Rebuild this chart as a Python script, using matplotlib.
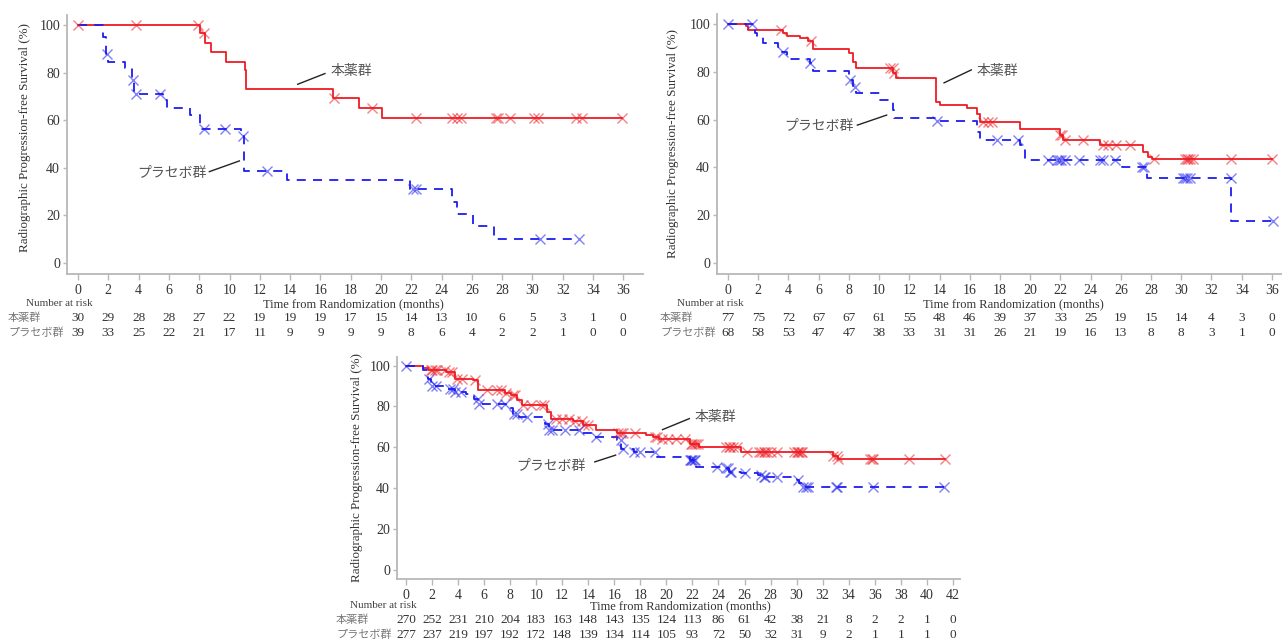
import numpy as np
import matplotlib
matplotlib.use('Agg')
import matplotlib.pyplot as plt
from matplotlib import transforms

# --- panel A ---
a_drug_t = [0, 8.06, 8.35, 8.8, 9.8, 11.0, 11.1, 16.85, 18.56, 20.06]
a_drug_s = [100, 96.6, 92.4, 88.6, 84.6, 81.0, 73.0, 69.3, 65.1, 60.8]
a_drug_cens = [0.0, 3.8, 7.9, 8.3, 16.9, 19.4, 22.3, 24.7, 25.0, 25.3, 27.6, 27.7,
               28.5, 30.1, 30.35, 32.9, 33.25, 35.9]
a_pbo_t = [0, 1.63, 1.85, 2.0, 3.1, 3.54, 3.7, 5.64, 5.86, 7.4, 8.05, 10.76, 10.98,
           13.8, 21.93, 24.68, 25.0, 26.07, 27.43]
a_pbo_s = [100, 94.8, 87.8, 84.6, 81.8, 76.9, 70.9, 68.5, 65.0, 62.2, 56.3, 53.5, 38.8,
           34.9, 31.0, 25.8, 20.7, 15.5, 10.3]
a_pbo_cens = [1.9, 3.6, 3.8, 5.4, 8.3, 9.7, 10.9, 12.5, 22.1, 22.3, 30.5, 33.05]
a_ticks = list(range(0, 37, 2))
a_risk_drug = [30, 29, 28, 28, 27, 22, 19, 19, 19, 17, 15, 14, 13, 10, 6, 5, 3, 1, 0]
a_risk_pbo = [39, 33, 25, 22, 21, 17, 11, 9, 9, 9, 9, 8, 6, 4, 2, 2, 1, 0, 0]

# --- panel B ---
b_drug_t = [0, 1.19, 1.35, 3.62, 3.88, 4.77, 5.3, 5.6, 8.03, 8.25, 8.5, 10.95, 11.1,
            13.77, 14.0, 15.8, 16.46, 16.65, 19.32, 21.97, 22.2, 24.62, 27.45, 27.8, 28.04]
b_drug_s = [100, 99.0, 97.5, 96.1, 95.0, 94.0, 93.0, 89.5, 87.7, 84.2, 81.5, 79.4, 77.3,
            67.5, 66.1, 64.7, 62.5, 59.1, 55.9, 53.6, 51.5, 49.4, 46.6, 44.5, 43.5]
b_drug_cens = [3.49, 5.5, 10.7, 10.9, 11.0, 16.9, 17.2, 17.45, 22.0, 22.1, 22.3, 23.5,
               24.8, 25.15, 25.7, 26.6, 28.2, 30.25, 30.35, 30.45, 30.57, 30.8, 33.3, 35.98]
b_pbo_t = [0, 1.8, 1.95, 2.34, 3.33, 3.6, 3.9, 5.4, 5.6, 8.03, 8.3, 8.5, 10.06, 10.95,
           11.0, 13.8, 16.45, 16.7, 19.3, 19.66, 26.1, 27.7, 33.3]
b_pbo_s = [100, 96.1, 94.4, 91.9, 90.2, 88.5, 85.4, 83.8, 80.3, 76.6, 73.5, 71.3, 68.2,
           64.0, 60.8, 59.3, 55.0, 51.5, 49.4, 43.1, 40.3, 35.4, 17.7]
b_pbo_cens = [0.0, 1.57, 3.66, 5.45, 8.1, 8.4, 13.85, 17.8, 19.2, 21.2, 21.75, 21.9,
              22.05, 22.3, 23.2, 24.6, 24.8, 25.6, 27.4, 27.55, 30.1, 30.25, 30.4, 30.6,
              33.27, 36.05]
b_ticks = list(range(0, 37, 2))
b_risk_drug = [77, 75, 72, 67, 67, 61, 55, 48, 46, 39, 37, 33, 25, 19, 15, 14, 4, 3, 0]
b_risk_pbo = [68, 58, 53, 47, 47, 38, 33, 31, 31, 26, 21, 19, 16, 13, 8, 8, 3, 1, 0]

# --- panel C ---
c_drug_t = [0, 1.33, 1.7, 3.1, 3.76, 5.17, 5.55, 7.6, 8.1, 8.5, 8.9, 10.8, 11.1, 12.86,
            13.6, 14.6, 16.2, 18.4, 19.0, 19.4, 21.8, 22.5, 25.7, 32.8, 33.2]
c_drug_s = [100, 99.0, 97.9, 96.8, 93.5, 92.7, 87.8, 86.8, 85.4, 82.9, 80.5, 77.0, 74.0,
            72.7, 71.0, 68.3, 67.0, 66.0, 64.8, 63.8, 61.8, 60.2, 57.7, 55.5, 54.0]
c_drug_cens = [1.9, 2.0, 2.2, 2.4, 3.0, 3.3, 3.5, 3.9, 4.3, 5.3, 6.2, 7.0, 7.3, 7.7, 8.2,
               8.4, 9.0, 9.6, 10.4, 10.6, 11.5, 12.0, 12.5, 13.0, 13.5, 13.7, 14.0, 16.3,
               16.5, 16.7, 17.6, 19.1, 19.3, 19.7, 20.1, 20.7, 21.4, 21.9, 22.0, 22.1,
               22.3, 22.4, 24.6, 24.8, 24.9, 25.1, 25.4, 26.2, 27.1, 27.3, 27.5, 27.6,
               27.7, 28.0, 28.5, 29.8, 30.0, 30.1, 30.2, 30.3, 30.4, 32.8, 33.1, 33.2,
               35.6, 35.8, 35.9, 38.6, 41.4]
c_pbo_t = [0, 1.3, 1.7, 1.9, 3.1, 3.76, 4.6, 5.2, 5.55, 7.7, 8.2, 8.7, 10.7, 11.0, 13.4,
           14.3, 16.2, 16.55, 17.5, 19.3, 21.8, 22.3, 24.2, 24.8, 25.7, 27.05, 27.4,
           30.0, 30.2, 30.5]
c_pbo_s = [100, 98.0, 93.5, 90.2, 88.6, 87.0, 86.2, 83.7, 81.3, 79.4, 76.4, 74.8, 71.5,
           68.6, 67.0, 65.0, 63.4, 59.3, 57.7, 55.3, 53.7, 50.4, 49.6, 48.0, 47.5, 46.3,
           45.2, 43.9, 42.3, 40.6]
c_pbo_cens = [0.0, 1.8, 2.0, 2.3, 3.4, 3.6, 3.8, 4.2, 5.5, 5.6, 7.0, 7.6, 8.3, 8.5, 9.3,
              10.9, 11.0, 11.2, 12.2, 13.3, 14.6, 16.5, 16.7, 17.5, 18.0, 19.1, 21.8,
              21.9, 22.0, 22.1, 22.2, 23.9, 24.6, 24.7, 24.9, 25.0, 26.0, 27.3, 27.5,
              27.6, 28.5, 30.1, 30.5, 30.7, 30.9, 33.0, 33.1, 35.9, 41.3]
c_ticks = list(range(0, 43, 2))
c_risk_drug = [270, 252, 231, 210, 204, 183, 163, 148, 143, 135, 124, 113, 86, 61, 42,
               38, 21, 8, 2, 2, 1, 0]
c_risk_pbo = [277, 237, 219, 197, 192, 172, 148, 139, 134, 114, 105, 93, 72, 50, 32,
              31, 9, 2, 1, 1, 1, 0]

groups = ['本薬群', 'プラセボ群']

W, H = 1282, 639
RED = '#ee1c24'
BLUE = '#1c1cf0'
plt.rcParams['font.family'] = ['Liberation Serif', 'Noto Sans CJK JP']

fig = plt.figure(figsize=(W / 100, H / 100), dpi=100)


def fx(x):
    return x / W


def fy(y):
    return 1 - y / H


def km(ax, t, s, cens, color, ls):
    t = np.asarray(t)
    s = np.asarray(s)
    cens = np.asarray(cens)
    end = max(t[-1], cens.max())
    ax.step(np.append(t, end), np.append(s, s[-1]), where='post', color=color,
            lw=1.3, linestyle=ls, zorder=3)
    idx = np.searchsorted(t, cens, side='right') - 1
    ax.plot(cens, s[idx], linestyle='none', marker='x', ms=7, mew=1.0,
            color=color, alpha=0.55, zorder=4)


def panel(box, xlim, ticks, drug, pbo, risk, ylab_xy, xlab_xy,
          nar_xy, row_x, row_y, ann):
    x0, y0, x1, y1 = box
    ax = fig.add_axes([fx(x0), fy(y1), fx(x1 - x0), (y1 - y0) / H])
    km(ax, *drug, RED, '-')
    km(ax, *pbo, BLUE, (0, (5, 4)))
    ax.set_xlim(*xlim)
    ax.set_ylim(-4.6, 104.2)
    ax.set_xticks(ticks)
    ax.set_yticks(range(0, 101, 20))
    for side in ['top', 'right']:
        ax.spines[side].set_visible(False)
    for side in ['left', 'bottom']:
        ax.spines[side].set_color('#b8b8b8')
        ax.spines[side].set_linewidth(1.3)
    ax.tick_params(axis='x', length=4, width=1, color='#b8b8b8', pad=3,
                   labelsize=10, labelcolor='#333333')
    ax.tick_params(axis='y', length=3, width=1, color='#b8b8b8', pad=2,
                   labelsize=10, labelcolor='#333333')

    fig.text(fx(ylab_xy[0]), fy(ylab_xy[1]), 'Radiographic Progression-free Survival (%)',
             rotation=90, ha='center', va='center', fontsize=9.4, color='#333333')
    fig.text(fx(xlab_xy[0]), fy(xlab_xy[1]), 'Time from Randomization (months)',
             ha='center', va='center', fontsize=9, color='#333333')
    fig.text(fx(nar_xy[0]), fy(nar_xy[1]), 'Number at risk',
             ha='center', va='center', fontsize=8, color='#444444')

    # numbers at risk under each tick
    trans = transforms.blended_transform_factory(ax.transData, fig.transFigure)
    for row, yy, name in zip(risk, row_y, groups):
        fig.text(fx(row_x), fy(yy), name, ha='left', va='center', fontsize=8,
                 color='#777777')
        for tk, n in zip(ticks, row):
            ax.text(tk, fy(yy), str(n), transform=trans, ha='center', va='center',
                    fontsize=9.5, color='#333333', clip_on=False)

    # group labels with leader lines
    for (label, p0, p1, txt) in ann:
        ax.plot([p0[0], p1[0]], [p0[1], p1[1]], color='#222222', lw=1.0, zorder=5)
        ax.text(txt[0], txt[1], label, ha='left', va='center', fontsize=10,
                color='#555555')
    return ax


panel((67, 15, 643, 274), (-0.73, 37.3), a_ticks,
      (a_drug_t, a_drug_s, a_drug_cens), (a_pbo_t, a_pbo_s, a_pbo_cens),
      (a_risk_drug, a_risk_pbo), (25, 138), (353, 304), (59, 304), 8, (318, 333),
      [('本薬群', (14.5, 75.1), (16.3, 79.6), (16.65, 80.3)),
       ('プラセボ群', (8.67, 38.4), (10.65, 42.9), (3.9, 37.8))])

panel((717, 14, 1292, 274), (-0.73, 37.33), b_ticks,
      (b_drug_t, b_drug_s, b_drug_cens), (b_pbo_t, b_pbo_s, b_pbo_cens),
      (b_risk_drug, b_risk_pbo), (673, 143), (1013, 304), (710, 304), 660, (318, 333),
      [('本薬群', (14.3, 75.4), (16.1, 80.8), (16.45, 80.3)),
       ('プラセボ群', (8.56, 57.7), (10.5, 61.9), (3.75, 57.0))])

panel((397, 357, 960, 579), (-0.69, 42.55), c_ticks,
      (c_drug_t, c_drug_s, c_drug_cens), (c_pbo_t, c_pbo_s, c_pbo_cens),
      (c_risk_drug, c_risk_pbo), (357, 468), (680, 606), (383, 606), 336, (620, 635),
      [('本薬群', (19.7, 68.6), (21.76, 74.0), (22.15, 74.5)),
       ('プラセボ群', (14.5, 52.8), (16.1, 56.1), (8.45, 50.4))])

fig.savefig('out.png', dpi=100)
